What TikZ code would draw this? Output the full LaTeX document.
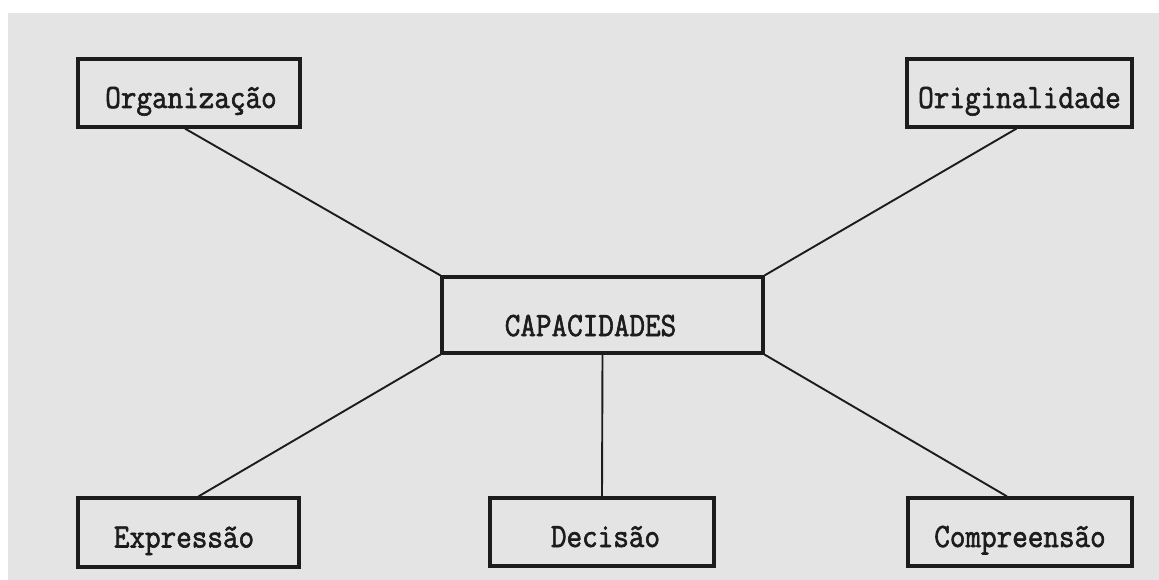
\documentclass[tikz,border=0pt]{standalone}
\usepackage{fontspec}
\newfontfamily\twfont[FakeStretch=0.89,FakeBold=1.8]{Latin Modern Mono}
\newcommand\txsh[2]{\hspace*{#1}#2}
\usetikzlibrary{calc}
\definecolor{paper}{HTML}{E4E4E4}
\definecolor{ink}{HTML}{1C1C1C}
\tikzset{
  box/.style={draw=ink, line width=3.2pt, fill=paper, inner sep=0pt,
    text height=30pt, text depth=0pt,
    font=\fontsize{34}{40}\selectfont\twfont, text=ink},
  link/.style={draw=ink, line width=1.9pt}
}
\begin{document}
\begin{tikzpicture}[x=1pt,y=-1pt]
\useasboundingbox (0,0) rectangle (1159,580);
\fill[white] (0,0) rectangle (1159,580);
\fill[paper] (8,13) rectangle (1159,580);
\node[box, minimum width=222pt, minimum height=68pt] (org) at (189,93) {\txsh{4pt}{Organização}};
\node[box, minimum width=225pt, minimum height=68pt] (ori) at (1019.5,93) {Originalidade};
\node[box, minimum width=321pt, minimum height=76pt, text height=42pt] (cap) at (602.5,315) {\txsh{-24pt}{CAPACIDADES}};
\node[box, minimum width=221pt, minimum height=69pt] (exp) at (188.5,532.5) {\txsh{-9pt}{Expressão}};
\node[box, minimum width=224pt, minimum height=68pt] (dec) at (602,532) {\txsh{7pt}{Decisão}};
\node[box, minimum width=224pt, minimum height=68pt] (com) at (1020,532) {Compreensão};
\draw[link] ($(org.south)+(-4,0)$) -- (cap.north west);
\draw[link] ($(ori.south)+(-3,0)$) -- (cap.north east);
\draw[link] (cap.south west) -- ($(exp.north)+(10,0)$);
\draw[link] (cap.south) -- (dec.north);
\draw[link] (cap.south east) -- ($(com.north)+(-13,0)$);
\end{tikzpicture}
\end{document}
